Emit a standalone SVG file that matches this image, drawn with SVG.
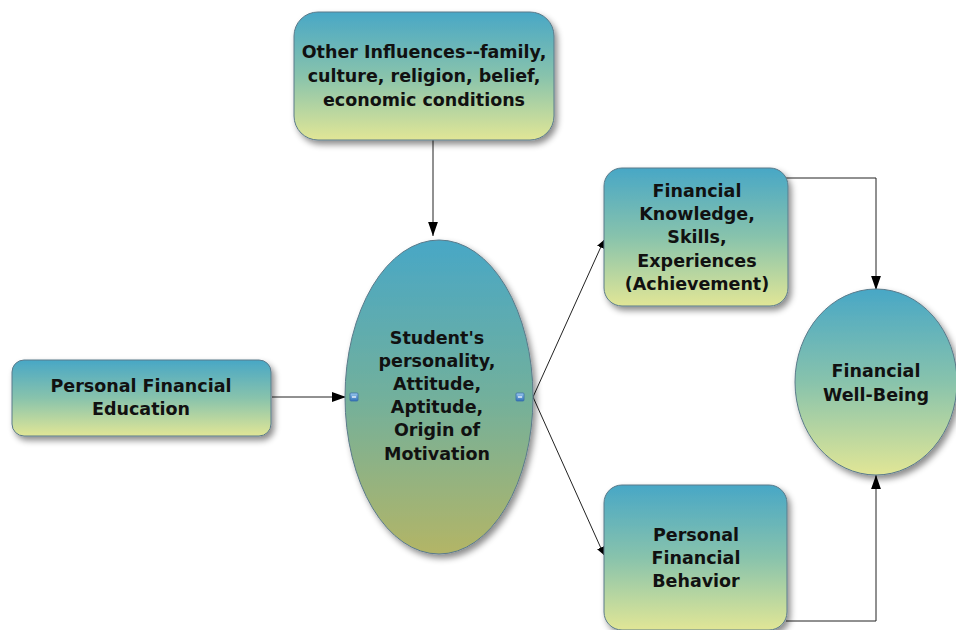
<svg xmlns="http://www.w3.org/2000/svg" width="956" height="630" viewBox="0 0 956 630">
<defs>
<linearGradient id="g1" x1="0" y1="0" x2="0" y2="1">
<stop offset="0" stop-color="#48a7c6"/>
<stop offset="0.5" stop-color="#88c3ac"/>
<stop offset="1" stop-color="#e1e696"/>
</linearGradient>
<linearGradient id="g2" x1="0" y1="0" x2="0" y2="1">
<stop offset="0" stop-color="#48a7c6"/>
<stop offset="0.5" stop-color="#72b09c"/>
<stop offset="1" stop-color="#b3b566"/>
</linearGradient>
<linearGradient id="gi" x1="0" y1="0" x2="0" y2="1">
<stop offset="0" stop-color="#9ccbf0"/>
<stop offset="1" stop-color="#2f6fb8"/>
</linearGradient>
<filter id="sh" x="-10%" y="-10%" width="125%" height="125%">
<feDropShadow dx="3" dy="4" stdDeviation="3" flood-color="#000" flood-opacity="0.45"/>
</filter>
<marker id="ab" viewBox="0 0 10 10" refX="10" refY="5" markerWidth="8" markerHeight="8" markerUnits="userSpaceOnUse" orient="auto">
<path d="M0,0 L10,5 L0,10 z" fill="#000"/>
</marker>
<marker id="abig" viewBox="0 0 10 10" refX="10" refY="5" markerWidth="14" markerHeight="14" markerUnits="userSpaceOnUse" orient="auto">
<path d="M0,1.5 L10,5 L0,8.5 z" fill="#000"/>
</marker>
</defs>
<style>
.n{fill:url(#g1);stroke:#5a7a8a;stroke-width:1;filter:url(#sh)}
.c{fill:url(#g2);stroke:#5a7a8a;stroke-width:1;filter:url(#sh)}
.t{font-family:"DejaVu Sans",Verdana,sans-serif;font-weight:bold;font-size:17.5px;fill:#111;text-anchor:middle}
.e{fill:none;stroke:#222;stroke-width:1}
.ic{fill:url(#gi);stroke:#3a6ea8;stroke-width:0.8}
</style>
<rect width="956" height="630" fill="#fff"/>
<g id="connectors">
<line class="e" x1="433" y1="140" x2="433" y2="236" marker-end="url(#abig)"/>
<line class="e" x1="272" y1="397" x2="346" y2="397" marker-end="url(#abig)"/>
<line class="e" x1="533" y1="397" x2="604" y2="240" marker-end="url(#ab)"/>
<line class="e" x1="533" y1="397" x2="604" y2="555" marker-end="url(#ab)"/>
<polyline class="e" points="786,178 876,178 876,290" marker-end="url(#abig)"/>
<polyline class="e" points="786,621 876,621 876,475" marker-end="url(#abig)"/>
</g>
<g id="other-influences">
<rect class="n" x="294" y="12" width="260" height="128" rx="24"/>
<text class="t" x="424" y="58">Other Influences--family,</text>
<text class="t" x="424" y="82">culture, religion, belief,</text>
<text class="t" x="424" y="106">economic conditions</text>
</g>
<g id="personal-financial-education">
<rect class="n" x="12" y="360" width="259" height="76" rx="12"/>
<text class="t" x="141" y="392">Personal Financial</text>
<text class="t" x="141" y="415">Education</text>
</g>
<g id="students-personality">
<ellipse class="c" cx="439" cy="397" rx="94" ry="157"/>
<text class="t" x="437" y="344">Student's</text>
<text class="t" x="437" y="367">personality,</text>
<text class="t" x="437" y="390">Attitude,</text>
<text class="t" x="437" y="413">Aptitude,</text>
<text class="t" x="437" y="436">Origin of</text>
<text class="t" x="437" y="460">Motivation</text>
<rect class="ic" x="350" y="393" width="8" height="8" rx="1"/>
<line x1="352" y1="397" x2="356" y2="397" stroke="#fff" stroke-width="1.2"/>
<rect class="ic" x="516" y="393" width="8" height="8" rx="1"/>
<line x1="518" y1="397" x2="522" y2="397" stroke="#fff" stroke-width="1.2"/>
</g>
<g id="financial-knowledge">
<rect class="n" x="604" y="168" width="184" height="138" rx="18"/>
<text class="t" x="697" y="197">Financial</text>
<text class="t" x="697" y="220">Knowledge,</text>
<text class="t" x="697" y="243">Skills,</text>
<text class="t" x="697" y="267">Experiences</text>
<text class="t" x="697" y="290">(Achievement)</text>
</g>
<g id="personal-financial-behavior">
<rect class="n" x="604" y="485" width="183" height="145" rx="18"/>
<text class="t" x="696" y="541">Personal</text>
<text class="t" x="696" y="564">Financial</text>
<text class="t" x="696" y="587">Behavior</text>
</g>
<g id="financial-well-being">
<ellipse class="n" cx="876" cy="382" rx="81" ry="93"/>
<text class="t" x="876" y="377">Financial</text>
<text class="t" x="876" y="401">Well-Being</text>
</g>
</svg>
